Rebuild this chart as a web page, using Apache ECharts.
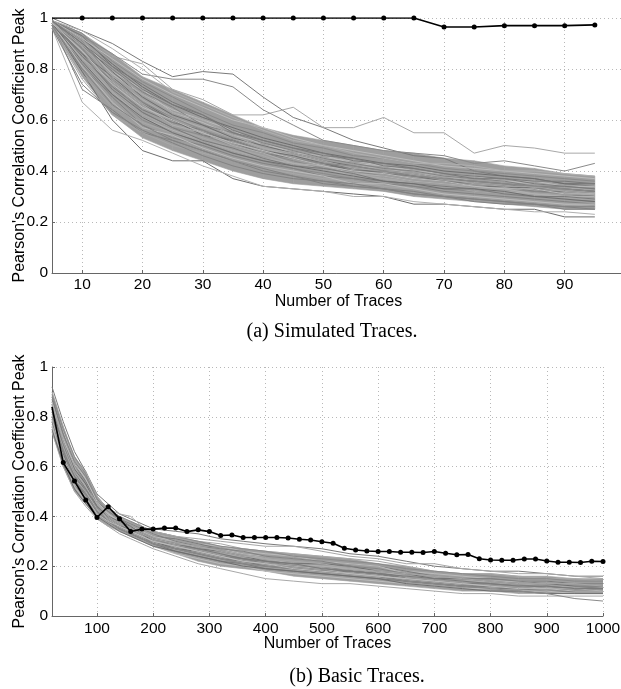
<!DOCTYPE html>
<html>
<head>
<meta charset="utf-8">
<script src="https://cdn.jsdelivr.net/npm/echarts@6/dist/echarts.min.js"></script>
<style>
    html, body { margin: 0; padding: 0; background: #ffffff; }
    #chart { width: 621px; height: 689px; }
</style>
</head>
<body>
<div id="chart"></div>
<script>
// (a) simulated traces
const simulatedCounts = [5, 10, 15, 20, 25, 30, 35, 40, 45, 50, 55, 60, 65, 70, 75, 80, 85, 90, 95];
const simulatedTicks = [10, 20, 30, 40, 50, 60, 70, 80, 90];
const simulatedAttack = [1, 1, 1, 1, 1, 1, 1, 1, 1, 1, 1, 1, 1, 0.965, 0.965, 0.97, 0.97, 0.97, 0.973];

// where most of the wrong-key curves pile up, in hundredths
const simulatedCoreLow = [96, 77, 62, 53, 48, 44, 40, 37, 35, 34, 33, 32, 30, 29, 28, 27, 26, 25, 25];
const simulatedCoreHigh = [99, 94, 86, 77, 72, 67, 62, 57, 54, 52, 50, 48, 47, 45, 44, 42, 41, 39, 38];

// correlation peaks of the other key guesses, in hundredths
const simulatedTraces = [
    [100, 95, 90, 83, 77, 79, 78, 69, 61, 57, 52, 49, 46, 45, 40, 38, 37, 35, 34],
    [99, 94, 85, 82, 72, 68, 62, 62, 65, 57, 57, 61, 55, 55, 47, 50, 49, 47, 47],
    [99, 93, 86, 78, 76, 76, 73, 64, 58, 52, 50, 48, 47, 46, 43, 44, 42, 40, 43],
    [97, 79, 60, 48, 44, 44, 37, 34, 33, 32, 31, 30, 27, 27, 26, 25, 25, 22, 22],
    [96, 67, 56, 52, 47, 42, 38, 34, 33, 32, 30, 30, 28, 27, 26, 25, 24, 24, 23],
    [98, 72, 64, 55, 52, 48, 44, 40, 38, 35, 34, 33, 31, 30, 28, 27, 27, 25, 25],
    [98, 90, 78, 70, 64, 60, 56, 50, 48, 45, 44, 42, 40, 38, 37, 36, 35, 34, 33],
    [99, 88, 75, 66, 60, 55, 52, 48, 45, 43, 41, 39, 38, 37, 36, 35, 33, 33, 32],
    [97, 84, 72, 62, 57, 53, 49, 46, 42, 40, 39, 37, 36, 35, 33, 33, 31, 31, 30],
    [98, 80, 70, 60, 55, 51, 47, 44, 41, 39, 37, 36, 34, 33, 32, 31, 30, 29, 28],
    [99, 92, 82, 73, 66, 61, 57, 53, 50, 47, 45, 43, 42, 40, 39, 38, 37, 35, 35],
    [98, 87, 76, 68, 61, 57, 53, 49, 46, 44, 42, 41, 39, 38, 36, 35, 34, 33, 33],
    [97, 82, 69, 58, 53, 50, 46, 43, 41, 38, 37, 35, 34, 32, 31, 30, 29, 28, 27],
    [99, 91, 79, 72, 63, 59, 54, 51, 47, 46, 43, 42, 40, 39, 38, 36, 36, 34, 34],
    [98, 85, 73, 64, 59, 56, 51, 47, 45, 42, 41, 39, 37, 36, 35, 34, 32, 32, 31],
    [96, 76, 62, 55, 50, 47, 44, 41, 39, 37, 36, 34, 33, 31, 30, 29, 28, 27, 26],
    [99, 94, 83, 75, 69, 63, 58, 55, 51, 49, 46, 45, 43, 41, 40, 39, 38, 37, 36],
    [98, 86, 77, 67, 60, 54, 52, 48, 46, 43, 40, 40, 38, 36, 34, 34, 33, 31, 30],
    [97, 83, 71, 61, 56, 52, 48, 45, 43, 41, 38, 37, 35, 34, 33, 32, 31, 30, 29],
    [99, 89, 80, 71, 65, 58, 55, 51, 48, 45, 43, 41, 40, 38, 37, 36, 34, 34, 33],
    [98, 81, 67, 57, 54, 49, 45, 42, 40, 38, 35, 35, 33, 31, 30, 29, 28, 27, 27],
    [99, 93, 81, 74, 67, 62, 55, 52, 49, 47, 44, 43, 41, 39, 38, 37, 36, 36, 35],
    [97, 78, 65, 59, 55, 52, 48, 45, 42, 40, 38, 37, 35, 34, 32, 31, 30, 29, 29],
    [98, 88, 74, 63, 57, 54, 50, 47, 44, 41, 40, 38, 36, 35, 34, 33, 32, 31, 30],
    [99, 90, 79, 69, 62, 58, 53, 50, 47, 44, 42, 40, 39, 37, 36, 35, 34, 33, 32],
    [98, 84, 75, 66, 58, 55, 50, 47, 43, 42, 39, 38, 36, 35, 34, 33, 31, 30, 30],
    [96, 74, 63, 56, 51, 46, 42, 39, 37, 36, 34, 33, 32, 30, 29, 28, 27, 26, 25],
    [99, 92, 84, 76, 70, 65, 60, 57, 53, 50, 48, 46, 44, 42, 41, 40, 39, 38, 37],
    [97, 86, 72, 63, 57, 52, 49, 45, 42, 41, 39, 36, 35, 34, 33, 31, 30, 30, 29],
    [98, 89, 77, 70, 63, 60, 54, 49, 47, 44, 41, 40, 39, 37, 35, 34, 34, 32, 31],
    [99, 91, 76, 67, 61, 56, 52, 48, 45, 43, 42, 40, 38, 37, 36, 35, 34, 33, 32],
    [98, 83, 70, 61, 55, 51, 47, 44, 42, 40, 38, 36, 35, 33, 33, 32, 30, 29, 28],
    [99, 95, 88, 80, 71, 66, 61, 56, 52, 50, 47, 45, 43, 43, 42, 40, 40, 39, 38],
    [97, 80, 66, 58, 52, 48, 44, 41, 38, 36, 35, 33, 31, 30, 29, 28, 27, 26, 26],
    [98, 87, 74, 65, 60, 55, 51, 48, 45, 42, 40, 39, 37, 36, 34, 33, 33, 31, 31],
    [99, 90, 81, 72, 66, 62, 56, 52, 49, 46, 45, 42, 41, 39, 37, 37, 35, 34, 33]
];

// (b) basic traces
const basicCounts = [
    20, 40, 60, 80, 100, 120, 140, 160, 180, 200,
    220, 240, 260, 280, 300, 320, 340, 360, 380, 400,
    420, 440, 460, 480, 500, 520, 540, 560, 580, 600,
    620, 640, 660, 680, 700, 720, 740, 760, 780, 800,
    820, 840, 860, 880, 900, 920, 940, 960, 980, 1000
];
const basicTicks = [100, 200, 300, 400, 500, 600, 700, 800, 900, 1000];
const basicAttack = [
    0.84, 0.616, 0.542, 0.466, 0.396, 0.439, 0.391, 0.339, 0.349, 0.349,
    0.353, 0.353, 0.339, 0.346, 0.339, 0.323, 0.325, 0.315, 0.315, 0.315,
    0.315, 0.313, 0.308, 0.305, 0.298, 0.292, 0.272, 0.265, 0.261, 0.259,
    0.259, 0.256, 0.256, 0.255, 0.259, 0.252, 0.246, 0.247, 0.230, 0.225,
    0.224, 0.224, 0.229, 0.229, 0.221, 0.216, 0.216, 0.215, 0.220, 0.219
];

const basicTraceCounts = [20, 40, 60, 80, 100, 120, 140, 160, 180, 200, 240, 280, 320, 360, 400, 450, 500, 550, 600, 650, 700, 750, 800, 850, 900, 950, 1000];
const basicCoreLow = [74, 60, 50, 45, 39, 36, 34, 32, 30, 28, 25, 22, 20, 19, 18, 16, 15, 14, 13, 12, 11, 10, 10, 9, 9, 9, 9];
const basicCoreHigh = [90, 76, 64, 58, 48, 43, 40, 38, 36, 34, 32, 30, 28, 27, 26, 25, 24, 23, 21, 20, 18, 17, 17, 16, 16, 15, 15];
const basicTraces = [
    [92, 78, 66, 58, 49, 45, 41, 39, 37, 35, 34, 33, 31, 30, 29, 28, 27, 25, 24, 22, 20, 19, 18, 18, 17, 16, 16],
    [74, 60, 50, 44, 39, 36, 33, 31, 29, 27, 24, 21, 19, 17, 15, 14, 13, 13, 12, 11, 10, 9, 9, 8, 8, 8, 8],
    [86, 72, 60, 53, 46, 41, 38, 36, 34, 32, 30, 28, 26, 24, 23, 22, 21, 20, 19, 17, 16, 15, 14, 14, 13, 13, 12],
    [80, 65, 55, 48, 42, 38, 36, 34, 32, 30, 27, 26, 24, 22, 21, 20, 19, 18, 17, 15, 14, 13, 13, 12, 12, 11, 11],
    [84, 70, 59, 52, 45, 41, 38, 35, 33, 31, 30, 27, 25, 24, 22, 21, 20, 19, 18, 17, 15, 14, 14, 13, 13, 12, 12],
    [78, 63, 54, 49, 43, 39, 36, 34, 32, 29, 27, 25, 23, 21, 20, 19, 18, 17, 16, 14, 13, 12, 12, 11, 11, 10, 10],
    [88, 74, 62, 55, 47, 42, 39, 37, 35, 33, 31, 29, 28, 26, 25, 24, 22, 21, 20, 18, 17, 16, 15, 14, 14, 13, 13],
    [76, 62, 53, 47, 41, 38, 35, 33, 31, 29, 26, 24, 22, 21, 19, 18, 17, 16, 15, 14, 13, 12, 11, 11, 10, 10, 10],
    [90, 76, 63, 56, 47, 43, 40, 37, 35, 33, 31, 30, 29, 27, 26, 25, 24, 23, 22, 20, 18, 17, 17, 16, 15, 15, 14],
    [82, 67, 58, 50, 44, 40, 37, 35, 33, 31, 28, 27, 25, 23, 22, 21, 20, 18, 17, 16, 15, 14, 13, 13, 12, 12, 11],
    [79, 66, 56, 51, 43, 39, 36, 35, 33, 30, 28, 26, 24, 22, 21, 19, 18, 18, 17, 15, 14, 13, 12, 12, 11, 11, 10],
    [85, 71, 60, 52, 45, 41, 38, 36, 34, 32, 30, 28, 26, 25, 23, 22, 21, 20, 19, 17, 16, 15, 14, 14, 13, 12, 12],
    [83, 69, 57, 50, 44, 40, 37, 34, 32, 30, 28, 26, 24, 23, 22, 20, 19, 18, 17, 16, 15, 14, 13, 13, 12, 12, 11],
    [77, 64, 52, 46, 40, 37, 34, 32, 30, 28, 25, 23, 21, 20, 18, 17, 16, 15, 14, 13, 12, 11, 11, 10, 10, 9, 9],
    [87, 73, 61, 54, 46, 42, 39, 36, 34, 32, 31, 29, 27, 25, 24, 23, 22, 21, 20, 18, 16, 15, 15, 14, 14, 13, 13],
    [81, 68, 57, 51, 44, 40, 37, 35, 33, 31, 29, 27, 25, 24, 22, 21, 20, 19, 18, 16, 15, 14, 13, 13, 12, 12, 12],
    [89, 75, 64, 57, 48, 43, 40, 38, 36, 34, 32, 30, 28, 27, 26, 24, 23, 22, 21, 19, 18, 17, 16, 15, 15, 14, 14],
    [75, 61, 51, 45, 40, 37, 34, 32, 30, 28, 26, 24, 22, 20, 19, 18, 17, 16, 15, 13, 12, 11, 10, 10, 9, 9, 9],
    [84, 69, 58, 52, 45, 41, 37, 35, 33, 31, 29, 27, 26, 24, 23, 21, 20, 19, 18, 16, 15, 14, 14, 13, 12, 12, 12],
    [80, 66, 56, 49, 43, 39, 36, 34, 32, 30, 28, 26, 24, 23, 21, 20, 19, 18, 17, 15, 14, 13, 13, 12, 12, 11, 11],
    [86, 71, 61, 55, 46, 41, 38, 36, 34, 32, 30, 28, 27, 25, 24, 23, 22, 21, 20, 17, 16, 15, 14, 14, 13, 13, 13],
    [78, 64, 54, 48, 42, 38, 35, 33, 31, 29, 27, 25, 23, 22, 20, 19, 18, 17, 16, 14, 13, 12, 12, 11, 11, 10, 10],
    [85, 72, 62, 58, 48, 43, 41, 40, 36, 34, 32, 31, 30, 29, 28, 28, 26, 24, 23, 21, 21, 19, 18, 17, 17, 16, 15],
    [80, 66, 55, 49, 42, 38, 35, 33, 31, 29, 27, 25, 23, 21, 20, 19, 18, 17, 16, 14, 13, 12, 11, 10, 9, 7, 6],
    [83, 70, 59, 53, 44, 40, 38, 36, 33, 31, 29, 27, 26, 24, 22, 21, 21, 20, 18, 17, 15, 15, 14, 13, 13, 12, 12],
    [79, 64, 55, 50, 43, 39, 36, 34, 32, 30, 28, 26, 24, 22, 21, 20, 19, 17, 16, 15, 14, 13, 12, 12, 11, 11, 10],
    [88, 73, 62, 56, 47, 42, 39, 37, 35, 33, 30, 28, 27, 26, 24, 23, 22, 20, 19, 17, 16, 15, 15, 14, 13, 13, 13],
    [76, 63, 53, 48, 41, 38, 36, 34, 32, 30, 28, 26, 24, 22, 21, 19, 18, 17, 16, 15, 14, 13, 12, 11, 11, 10, 10],
    [82, 69, 58, 51, 44, 40, 37, 35, 33, 31, 29, 27, 25, 23, 22, 21, 19, 18, 17, 16, 15, 14, 13, 12, 12, 11, 11],
    [85, 70, 58, 52, 45, 40, 37, 35, 33, 31, 29, 28, 26, 24, 23, 22, 21, 19, 18, 17, 16, 15, 14, 13, 13, 13, 12]
];

const grays = ["#7a7a7a", "#a8a8a8", "#8a8a8a", "#6e6e6e", "#b0b0b0", "#828282", "#bcbcbc"];

const labelFont = "Liberation Sans";
const yName = "Pearson's Correlation Coefficient Peak";

// dense core of the gray curves, drawn as one quad per segment
function coreBand(counts, low, high, axisIndex) {
    const data = counts.slice(0, -1).map((c, j) => [
        c, low[j] / 100, high[j] / 100,
        counts[j + 1], low[j + 1] / 100, high[j + 1] / 100
    ]);

    return {
        type: "custom",
        xAxisIndex: axisIndex,
        yAxisIndex: axisIndex,
        silent: true,
        clip: true,
        z: 1,
        encode: { x: [0, 3], y: [1, 2, 4, 5] },
        data: data,
        renderItem: (params, api) => {
            const points = [
                api.coord([api.value(0), api.value(2)]),
                api.coord([api.value(3), api.value(5)]),
                api.coord([api.value(3), api.value(4)]),
                api.coord([api.value(0), api.value(1)])
            ];
            return {
                type: "polygon",
                shape: { points: points },
                style: { fill: "#9e9e9e", stroke: "#9e9e9e", lineWidth: 0.6 }
            };
        }
    };
}

function grayLines(counts, traces, axisIndex) {
    return traces.map((trace, i) => ({
        type: "line",
        xAxisIndex: axisIndex,
        yAxisIndex: axisIndex,
        data: counts.map((c, j) => [c, trace[j] / 100]),
        symbol: "none",
        silent: true,
        lineStyle: { color: grays[i % grays.length], width: 1 },
        z: 2
    }));
}

function attackLine(counts, values, axisIndex) {
    return {
        type: "line",
        xAxisIndex: axisIndex,
        yAxisIndex: axisIndex,
        data: counts.map((c, j) =>
            j === 0 ? { value: [c, values[j]], symbol: "none" } : [c, values[j]]
        ),
        symbol: "circle",
        symbolSize: 5,
        itemStyle: { color: "#000000" },
        lineStyle: { color: "#000000", width: 1.6 },
        z: 5
    };
}

function xAxis(gridIndex, min, max, ticks, labelMargin, nameGap) {
    return {
        type: "value",
        gridIndex: gridIndex,
        min: min,
        max: max,
        name: "Number of Traces",
        nameLocation: "middle",
        nameGap: nameGap,
        nameMoveOverlap: false,
        nameTextStyle: { color: "#000", fontFamily: labelFont, fontSize: 16 },
        axisLine: { lineStyle: { color: "#666", width: 1 } },
        axisTick: { show: true, inside: true, length: 3, customValues: ticks, lineStyle: { color: "#666" } },
        axisLabel: {
            customValues: ticks,
            formatter: value => String(value),
            color: "#000",
            fontFamily: labelFont,
            fontSize: 15.5,
            margin: labelMargin
        },
        splitLine: { show: true, lineStyle: { color: "#b8b8b8", type: [1, 3] } }
    };
}

function yAxis(gridIndex) {
    return {
        type: "value",
        gridIndex: gridIndex,
        min: 0,
        max: 1,
        interval: 0.2,
        name: yName,
        nameLocation: "middle",
        nameGap: 24,
        nameMoveOverlap: false,
        nameTextStyle: { color: "#000", fontFamily: labelFont, fontSize: 16 },
        axisLine: { show: true, lineStyle: { color: "#666", width: 1 } },
        axisTick: { show: true, inside: true, length: 3, lineStyle: { color: "#666" } },
        axisLabel: { color: "#000", fontFamily: labelFont, fontSize: 15.5, margin: 4 },
        splitLine: { show: true, lineStyle: { color: "#b8b8b8", type: [1, 3] } }
    };
}

const chart = echarts.init(document.getElementById("chart"));

chart.setOption({
    animation: false,
    backgroundColor: "#ffffff",
    grid: [
        { left: 52, right: -4, top: 18, bottom: 416, outerBoundsMode: "none" },
        { left: 52, right: 18, top: 367, bottom: 73, outerBoundsMode: "none" }
    ],
    xAxis: [
        xAxis(0, 5, 100, simulatedTicks, 4, 21),
        xAxis(1, 20, 1000, basicTicks, 5, 20)
    ],
    yAxis: [yAxis(0), yAxis(1)],
    series: [
        coreBand(simulatedCounts, simulatedCoreLow, simulatedCoreHigh, 0),
        ...grayLines(simulatedCounts, simulatedTraces, 0),
        attackLine(simulatedCounts, simulatedAttack, 0),
        coreBand(basicTraceCounts, basicCoreLow, basicCoreHigh, 1),
        ...grayLines(basicTraceCounts, basicTraces, 1),
        attackLine(basicCounts, basicAttack, 1)
    ],
    graphic: [
        {
            type: "text",
            x: 332,
            y: 332,
            style: {
                text: "(a) Simulated Traces.",
                font: "20px 'Liberation Serif'",
                fill: "#000",
                textAlign: "center",
                textVerticalAlign: "middle"
            }
        },
        {
            type: "text",
            x: 357,
            y: 677,
            style: {
                text: "(b) Basic Traces.",
                font: "20px 'Liberation Serif'",
                fill: "#000",
                textAlign: "center",
                textVerticalAlign: "middle"
            }
        }
    ]
});
</script>
</body>
</html>
